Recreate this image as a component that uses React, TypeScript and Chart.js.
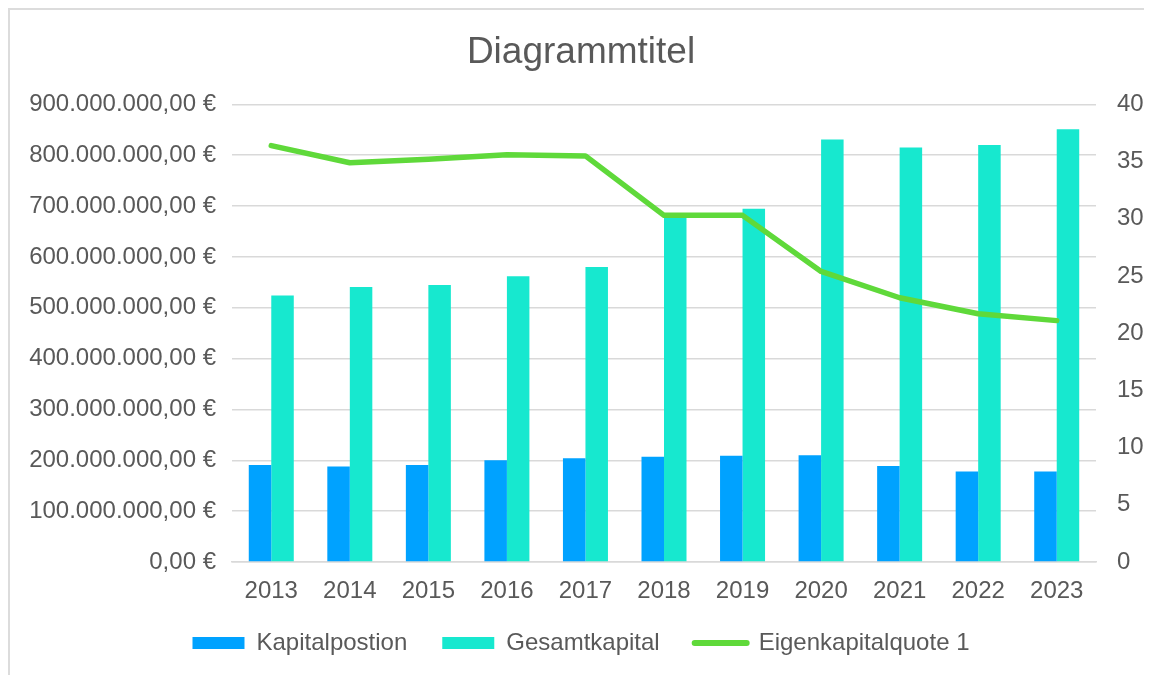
import React, { useEffect, useRef } from "react";
import { Chart, registerables } from "chart.js";

Chart.register(...registerables);

const years = ["2013", "2014", "2015", "2016", "2017", "2018", "2019", "2020", "2021", "2022", "2023"];
const kapitalposition = [191000000, 188000000, 191000000, 200000000, 204000000, 207000000, 209000000, 210000000, 189000000, 178000000, 178000000];
const gesamtkapital = [524000000, 541000000, 545000000, 562000000, 580000000, 678000000, 695000000, 831000000, 815000000, 820000000, 851000000];
const eigenkapitalquote = [36.4, 34.9, 35.2, 35.6, 35.5, 30.3, 30.3, 25.4, 23.1, 21.7, 21.1];

const seriesNames = ["Kapitalpostion", "Gesamtkapital", "Eigenkapitalquote 1"];
const chartTitle = "Diagrammtitel";

const TEXT = "#595959";
const GRID = "#d9d9d9";

const LEGEND_BOX_HEIGHT = 68;
const LEGEND_SHIFT = 11;
const X_AXIS_HEIGHT = 45;

function fmtEuro(v: number): string {
  const n = Math.round(v);
  const s = n.toString().replace(/\B(?=(\d{3})+(?!\d))/g, ".");
  return s + ",00 €";
}

const legendTweak = {
  id: "legendTweak",
  beforeLayout(chart: any) {
    const lg = chart.legend;
    if (lg && !lg.__patched) {
      const orig = lg.fit.bind(lg);
      lg.fit = function () {
        orig();
        lg.height = LEGEND_BOX_HEIGHT;
      };
      lg.__patched = true;
    }
  },
  afterLayout(chart: any) {
    const lg = chart.legend;
    if (lg) {
      lg.top -= LEGEND_SHIFT;
    }
  },
};

export default function App() {
  const ref = useRef<HTMLCanvasElement | null>(null);

  useEffect(() => {
    document.body.style.overflow = "hidden";
    const canvas = ref.current;
    if (!canvas) return;
    Chart.defaults.font.family = "'Liberation Sans', Arial, sans-serif";
    Chart.defaults.color = TEXT;

    const chart = new Chart(canvas, {
      type: "bar",
      data: {
        labels: years,
        datasets: [
          {
            type: "line",
            label: seriesNames[2],
            data: eigenkapitalquote,
            yAxisID: "y1",
            borderColor: "#5fd93a",
            backgroundColor: "#5fd93a",
            borderWidth: 5.5,
            pointRadius: 0,
            tension: 0,
            borderCapStyle: "round",
            borderJoinStyle: "round",
            order: 0,
          } as any,
          {
            type: "bar",
            label: seriesNames[0],
            data: kapitalposition,
            yAxisID: "y",
            backgroundColor: "#00a2ff",
            categoryPercentage: 0.573,
            barPercentage: 1.0,
            order: 1,
          },
          {
            type: "bar",
            label: seriesNames[1],
            data: gesamtkapital,
            yAxisID: "y",
            backgroundColor: "#17e8cf",
            categoryPercentage: 0.573,
            barPercentage: 1.0,
            order: 1,
          },
        ],
      },
      plugins: [legendTweak],
      options: {
        animation: false,
        responsive: false,
        maintainAspectRatio: false,
        layout: { padding: { left: 0, right: 0, top: 0, bottom: 0 } },
        plugins: {
          title: {
            display: true,
            text: chartTitle,
            color: TEXT,
            font: { size: 37, weight: "normal" },
            padding: { top: 21, bottom: 29 },
          },
          legend: {
            position: "bottom",
            labels: {
              color: TEXT,
              font: { size: 24 },
              usePointStyle: true,
              pointStyleWidth: 52,
              boxHeight: 12,
              padding: 35,
              generateLabels: (ch: any) => {
                const order = [1, 2, 0];
                return order.map((i) => {
                  const ds = ch.data.datasets[i];
                  const isLine = ds.type === "line";
                  return {
                    text: ds.label,
                    fillStyle: ds.backgroundColor,
                    strokeStyle: ds.borderColor || ds.backgroundColor,
                    lineWidth: isLine ? 6 : 0,
                    lineCap: "round",
                    pointStyle: isLine ? "line" : "rect",
                    fontColor: TEXT,
                    hidden: false,
                    datasetIndex: i,
                  };
                });
              },
            },
          },
          tooltip: { enabled: false },
        },
        scales: {
          x: {
            grid: { display: false, drawTicks: false },
            border: { display: true, color: GRID, width: 1.5 },
            ticks: { color: TEXT, font: { size: 24 }, padding: 15 },
            afterFit: (s: any) => {
              s.height = X_AXIS_HEIGHT;
            },
          },
          y: {
            position: "left",
            min: 0,
            max: 900000000,
            ticks: {
              stepSize: 100000000,
              color: TEXT,
              font: { size: 24 },
              padding: 16,
              callback: (v: any) => fmtEuro(Number(v)),
            },
            grid: { color: GRID, lineWidth: 1.5, drawTicks: false },
            border: { display: false },
            afterFit: (s: any) => {
              s.width = 222;
            },
          },
          y1: {
            position: "right",
            min: 0,
            max: 40,
            ticks: { stepSize: 5, color: TEXT, font: { size: 24 }, padding: 21 },
            grid: { display: false, drawOnChartArea: false, drawTicks: false },
            border: { display: false },
            afterFit: (s: any) => {
              s.width = 56;
            },
          },
        },
      },
    });
    return () => chart.destroy();
  }, []);

  return (
    <div
      style={{
        width: 1142,
        height: 665,
        borderLeft: "2px solid #dcdcdc",
        borderTop: "2px solid #dcdcdc",
        background: "#fff",
      }}
    >
      <canvas ref={ref} width={1142} height={665} style={{ display: "block" }} />
    </div>
  );
}
